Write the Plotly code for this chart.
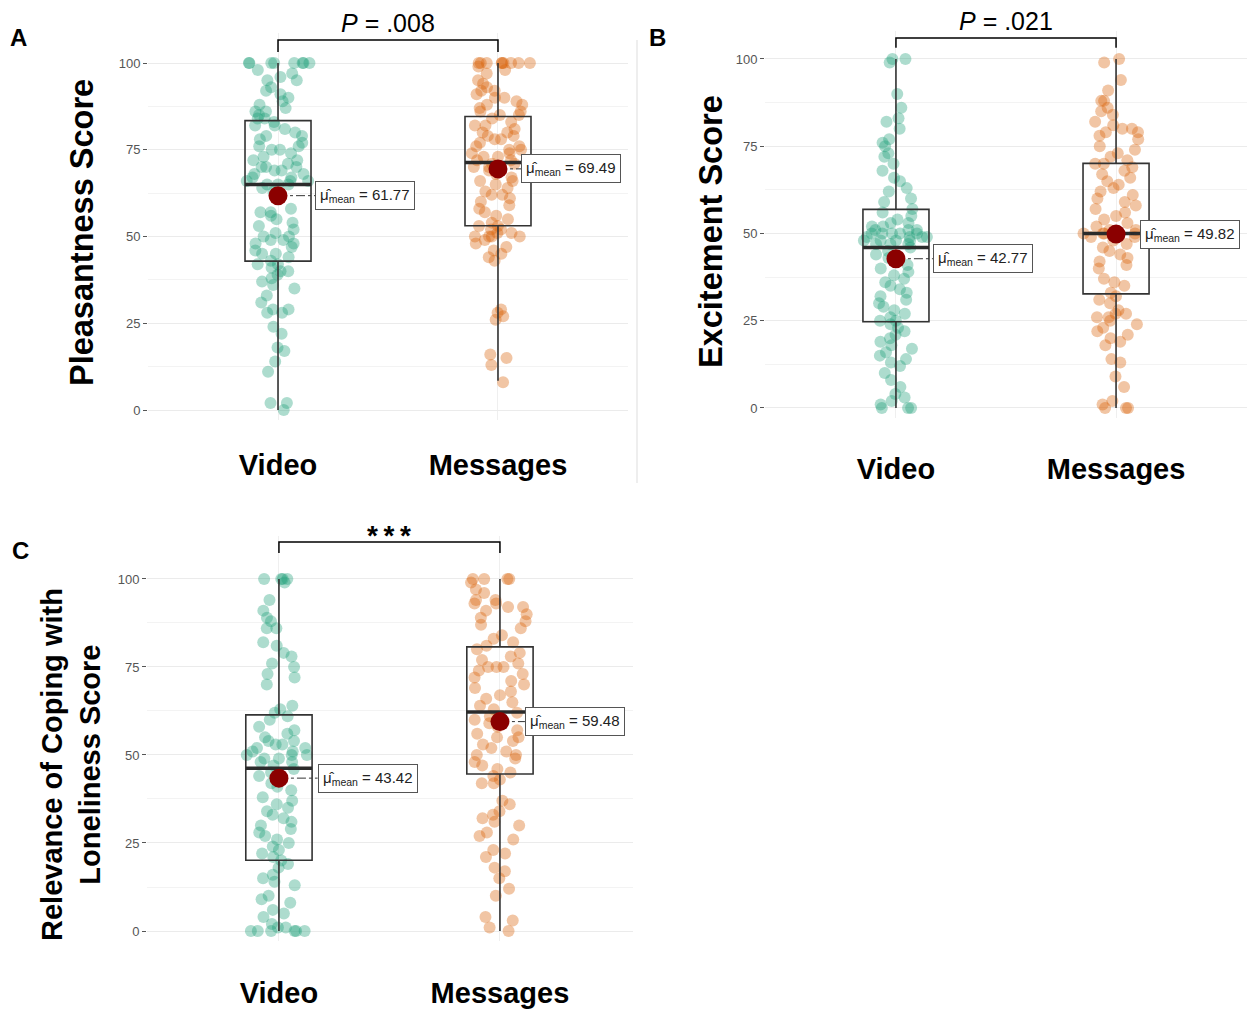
import plotly.graph_objects as go

# ---------------- data ----------------
categories = ["Video", "Messages"]

pleasant_video = [100, 100, 100, 100, 100, 100, 100, 100, 98, 97, 96, 95, 95, 93, 92, 91, 90, 89, 88, 87,
                  86, 86, 85, 84, 84, 83, 82, 82, 81, 80, 79, 79, 78, 77, 76, 76, 75, 75, 74, 73,
                  72, 72, 71, 70, 70, 69, 68, 68, 67, 66, 66, 65, 65, 64, 63, 70, 69, 67, 66, 65,
                  58, 57, 57, 56, 55, 54, 53, 52, 51, 50, 50, 49, 49, 48, 48, 47, 46, 45, 45, 44,
                  43, 42, 42, 41, 40, 40, 39, 38, 37, 36, 35, 33, 31, 29, 29, 28, 28, 24, 22, 18,
                  17, 14, 11, 2, 2, 0]
pleasant_messages = [100, 100, 100, 100, 100, 100, 100, 100, 100, 99, 98, 97, 95, 94, 93, 92, 92, 91, 90, 90,
                     89, 88, 88, 87, 86, 86, 85, 85, 84, 83, 82, 82, 81, 80, 80, 79, 79, 78, 78, 77,
                     76, 76, 75, 75, 74, 74, 73, 73, 72, 72, 71, 71, 70, 70, 69, 68, 67, 66, 66, 65,
                     64, 63, 62, 62, 61, 60, 59, 58, 57, 56, 55, 54, 53, 53, 52, 52, 51, 51, 50, 50,
                     50, 50, 49, 48, 47, 46, 45, 44, 43, 29, 28, 27, 26, 16, 15, 13, 8]

excite_video = [100, 100, 99, 90, 86, 83, 82, 80, 77, 76, 75, 73, 72, 70, 68, 66, 65, 63, 62, 60,
                59, 57, 56, 55, 54, 53, 53, 52, 52, 51, 51, 51, 50, 50, 50, 50, 50, 49, 49, 49,
                49, 48, 48, 48, 48, 47, 47, 47, 46, 45, 44, 43, 42, 41, 40, 39, 38, 37, 36, 35,
                34, 33, 32, 31, 30, 29, 28, 27, 26, 25, 25, 24, 23, 22, 21, 20, 19, 18, 17, 16,
                15, 14, 13, 12, 10, 8, 6, 4, 3, 2, 1, 0, 0, 0]
excite_messages = [100, 99, 94, 91, 88, 88, 86, 85, 84, 82, 81, 80, 80, 79, 79, 78, 77, 75, 74, 73,
                   72, 71, 70, 70, 69, 68, 67, 66, 65, 64, 63, 62, 61, 60, 59, 58, 57, 56, 55, 54,
                   53, 52, 51, 51, 50, 50, 50, 50, 50, 49, 49, 48, 47, 46, 45, 44, 43, 42, 41, 40,
                   37, 36, 35, 33, 32, 31, 30, 28, 27, 27, 26, 26, 25, 24, 23, 22, 21, 20, 19, 18,
                   14, 13, 9, 6, 2, 1, 0, 0, 0]

coping_video = [100, 100, 100, 100, 99, 94, 91, 89, 88, 86, 86, 82, 81, 79, 78, 76, 75, 73, 72, 70,
                64, 63, 62, 61, 60, 58, 57, 56, 55, 54, 54, 53, 53, 52, 52, 51, 51, 50, 50, 50,
                49, 49, 48, 48, 47, 46, 45, 44, 42, 41, 40, 38, 37, 36, 35, 34, 33, 32, 31, 30,
                29, 28, 27, 26, 25, 24, 23, 22, 21, 20, 19, 18, 16, 15, 14, 13, 10, 9, 8, 6,
                5, 4, 2, 1, 1, 0, 0, 0, 0, 0, 0]
coping_messages = [100, 100, 100, 100, 99, 97, 96, 94, 94, 93, 93, 92, 92, 91, 90, 89, 88, 87, 86, 84,
                   83, 82, 81, 80, 79, 78, 77, 76, 75, 75, 75, 74, 73, 72, 71, 70, 69, 68, 67, 66,
                   65, 64, 63, 62, 61, 60, 59, 58, 57, 56, 55, 55, 54, 53, 52, 51, 50, 50, 49, 48,
                   47, 46, 45, 44, 43, 42, 42, 37, 36, 34, 33, 32, 31, 30, 28, 27, 26, 23, 22, 21,
                   18, 17, 15, 12, 10, 4, 3, 1, 0]

# box statistics: [Video, Messages]
pleasant_q1 = [42.9, 53.1]
pleasant_median = [65.0, 71.3]
pleasant_q3 = [83.4, 84.6]
pleasant_lower = [0, 8.4]
pleasant_upper = [100, 100]
pleasant_mean = [61.77, 69.49]

excite_q1 = [24.7, 32.7]
excite_median = [46.0, 50.0]
excite_q3 = [56.9, 70.1]
excite_lower = [0, 0]
excite_upper = [100, 100]
excite_mean = [42.77, 49.82]

coping_q1 = [20.1, 44.6]
coping_median = [46.2, 62.2]
coping_q3 = [61.4, 80.7]
coping_lower = [0, 0]
coping_upper = [100, 100]
coping_mean = [43.42, 59.48]

sig_labels = ["<i>P</i> = .008", "<i>P</i> = .021", "<b>*\u2009*\u2009*</b>"]
y_titles = ["Pleasantness Score", "Excitement Score", "Relevance of Coping with<br>Loneliness Score"]
panel_letters = ["A", "B", "C"]
y_ticks = [0, 25, 50, 75, 100]
y_minor = [12.5, 37.5, 62.5, 87.5]

# ---------------- styling / layout ----------------
W, H = 1247, 1010
FONT = "Liberation Sans, Arial, sans-serif"
GREEN = "rgba(27,158,119,0.36)"
ORANGE = "rgba(217,95,2,0.36)"
BOX_HALF = 0.15
positions = [0, 1]

panels = [
    dict(data=[pleasant_video, pleasant_messages], q1=pleasant_q1, med=pleasant_median, q3=pleasant_q3,
         lo=pleasant_lower, hi=pleasant_upper, mean=pleasant_mean,
         px_x=(148, 628), px_y=(33, 420), xr=[-0.591, 1.591], yr=[-2.88, 108.65],
         br=(103.2, 106.6), standoff=25, lab_off=[0.17, 0.105],
         ytitle_px=(82, 233), letter_px=(18, 37), ytsize=32.5, sig=dict(size=25, shift=1)),
    dict(data=[excite_video, excite_messages], q1=excite_q1, med=excite_median, q3=excite_q3,
         lo=excite_lower, hi=excite_upper, mean=excite_mean,
         px_x=(765, 1247), px_y=(31, 418), xr=[-0.595, 1.595], yr=[-2.87, 108.02],
         br=(103.2, 106.0), standoff=31, lab_off=[0.168, 0.11],
         ytitle_px=(711, 232), letter_px=(657, 37), ytsize=32.5, sig=dict(size=25, shift=1)),
    dict(data=[coping_video, coping_messages], q1=coping_q1, med=coping_median, q3=coping_q3,
         lo=coping_lower, hi=coping_upper, mean=coping_mean,
         px_x=(147, 633), px_y=(536, 941), xr=[-0.597, 1.602], yr=[-2.84, 112.2],
         br=(107.4, 110.5), standoff=32, lab_off=[0.175, 0.113],
         ytitle_px=(71, 765), letter_px=(20, 550), ytsize=29, sig=dict(size=28, shift=-11)),
]

fig = go.Figure()
layout = dict(width=W, height=H, margin=dict(l=0, r=0, t=0, b=0), autosize=False,
              paper_bgcolor="white", plot_bgcolor="white", showlegend=False,
              boxmode="overlay", font=dict(family=FONT))
annotations = []
shapes = []

for i, p in enumerate(panels):
    sfx = "" if i == 0 else str(i + 1)
    xa, ya = "x" + sfx, "y" + sfx
    colors = [GREEN, ORANGE]

    # jittered points (jitter done by plotly's box trace)
    for pos, vals, col in zip(positions, p["data"], colors):
        fig.add_trace(go.Box(x=[pos] * len(vals), y=vals, boxpoints="all", jitter=1.0, pointpos=0,
                             width=2 * BOX_HALF, whiskerwidth=0,
                             line=dict(width=0, color="rgba(0,0,0,0)"), fillcolor="rgba(0,0,0,0)",
                             marker=dict(size=12, color=col, line=dict(width=0)),
                             hoverinfo="skip", xaxis=xa, yaxis=ya))
    # boxes from the read statistics
    fig.add_trace(go.Box(x=positions, q1=p["q1"], median=p["med"], q3=p["q3"],
                         lowerfence=p["lo"], upperfence=p["hi"], width=2 * BOX_HALF, whiskerwidth=0,
                         line=dict(color="#333333", width=1.6), fillcolor="rgba(0,0,0,0)",
                         boxpoints=False, hoverinfo="skip", xaxis=xa, yaxis=ya))
    # thick median lines
    mx, my = [], []
    for pos, m in zip(positions, p["med"]):
        mx += [pos - BOX_HALF, pos + BOX_HALF, None]
        my += [m, m, None]
    fig.add_trace(go.Scatter(x=mx, y=my, mode="lines", line=dict(color="#2b2b2b", width=3.5),
                             hoverinfo="skip", xaxis=xa, yaxis=ya))
    # connectors to mean labels
    cx, cy = [], []
    for pos, m, off in zip(positions, p["mean"], p["lab_off"]):
        cx += [pos, pos + off, None]
        cy += [m, m, None]
    fig.add_trace(go.Scatter(x=cx, y=cy, mode="lines", line=dict(color="#333333", width=1, dash="dashdot"),
                             hoverinfo="skip", xaxis=xa, yaxis=ya))
    # mean points
    fig.add_trace(go.Scatter(x=positions, y=p["mean"], mode="markers",
                             marker=dict(size=19, color="#8B0000"), hoverinfo="skip", xaxis=xa, yaxis=ya))
    # significance bracket
    lo_b, hi_b = p["br"]
    fig.add_trace(go.Scatter(x=[positions[0], positions[0], positions[1], positions[1]],
                             y=[lo_b, hi_b, hi_b, lo_b], mode="lines",
                             line=dict(color="black", width=1.5), hoverinfo="skip", xaxis=xa, yaxis=ya))
    annotations.append(dict(x=0.5, y=hi_b, xref=xa, yref=ya, text=sig_labels[i], showarrow=False,
                            yanchor="bottom", yshift=p["sig"]["shift"],
                            font=dict(size=p["sig"]["size"], color="black", family=FONT)))
    # mean labels
    for pos, m, off in zip(positions, p["mean"], p["lab_off"]):
        annotations.append(dict(x=pos + off, y=m, xref=xa, yref=ya, xanchor="left", yanchor="middle",
                                text="\u03bc\u0302<sub>mean</sub> = %.2f" % m, showarrow=False,
                                bgcolor="white", bordercolor="#555555", borderwidth=1, borderpad=4,
                                font=dict(size=15, color="#222222", family=FONT)))
    # y title
    tx, ty = p["ytitle_px"]
    annotations.append(dict(x=tx / W, y=1 - ty / H, xref="paper", yref="paper", text=y_titles[i],
                            textangle=-90, showarrow=False, xanchor="center", yanchor="middle",
                            font=dict(size=p["ytsize"], color="black", family=FONT, weight="bold")))
    # panel letter
    lx, ly = p["letter_px"]
    annotations.append(dict(x=lx / W, y=1 - ly / H, xref="paper", yref="paper", text=panel_letters[i],
                            showarrow=False, xanchor="center", yanchor="middle",
                            font=dict(size=24, color="black", family=FONT, weight="bold")))

    x0, x1 = p["px_x"]
    yt, yb = p["px_y"]
    layout["xaxis" + sfx] = dict(domain=[x0 / W, x1 / W], range=p["xr"], anchor=ya,
                                 tickvals=positions, ticktext=categories, ticks="",
                                 ticklabelstandoff=p["standoff"],
                                 tickfont=dict(size=29, color="black", family=FONT, weight="bold"),
                                 showgrid=True, gridcolor="#efefef", gridwidth=1,
                                 zeroline=False, showline=False, fixedrange=True)
    layout["yaxis" + sfx] = dict(domain=[1 - yb / H, 1 - yt / H], range=p["yr"], anchor=xa,
                                 tickvals=y_ticks, ticks="outside", ticklen=4, tickwidth=1,
                                 tickcolor="#555555",
                                 tickfont=dict(size=13, color="#555555", family=FONT),
                                 showgrid=True, gridcolor="#ebebeb", gridwidth=1,
                                 minor=dict(tickvals=y_minor, showgrid=True, gridcolor="#f3f3f3",
                                            gridwidth=1, ticks=""),
                                 zeroline=False, showline=False, fixedrange=True)

# thin separator between panels A and B
shapes.append(dict(type="line", xref="paper", yref="paper", x0=637 / W, x1=637 / W,
                   y0=1 - 40 / H, y1=1 - 483 / H, line=dict(color="#dddddd", width=1)))

layout["annotations"] = annotations
layout["shapes"] = shapes
fig.update_layout(**layout)

fig.write_html("out.html", config={"displayModeBar": False},
               post_script="document.body.style.margin='0';")
